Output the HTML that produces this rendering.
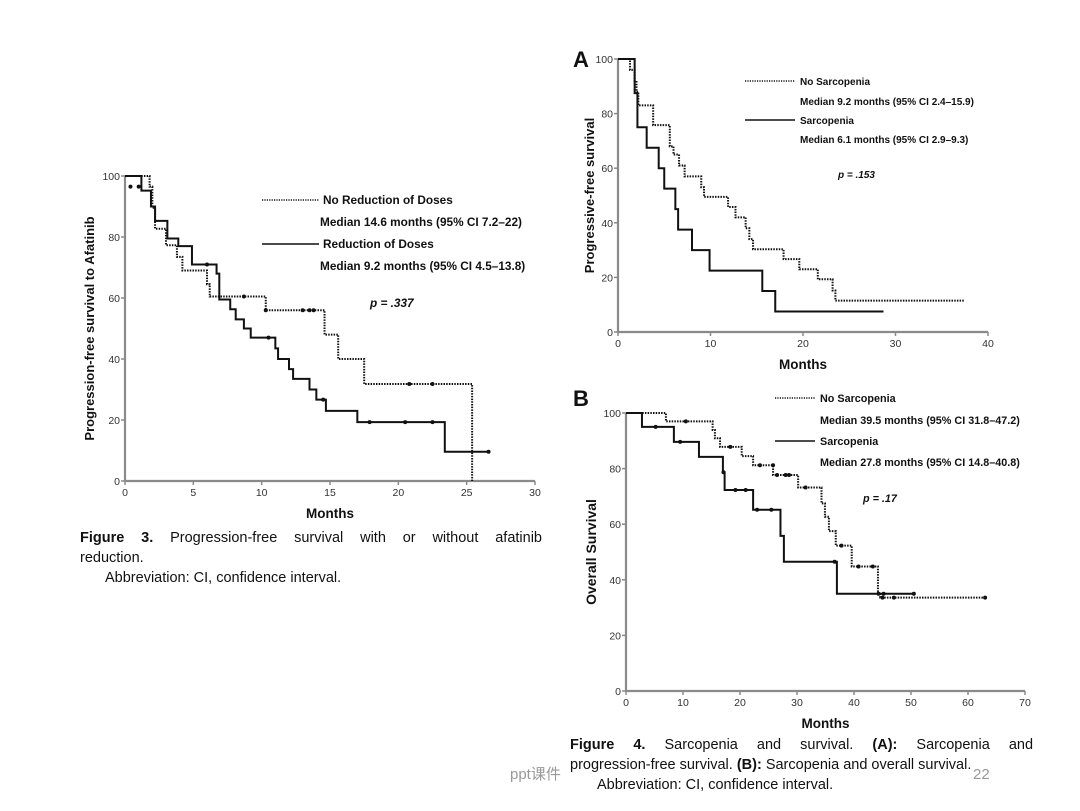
<!DOCTYPE html>
<html><head><meta charset="utf-8">
<style>
body{margin:0;background:#fff;width:1080px;height:811px;overflow:hidden;font-family:"Liberation Sans",sans-serif;}
svg{position:absolute;left:0;top:0}
.cap{position:absolute;font-family:"Liberation Sans","Noto Sans CJK SC",sans-serif;font-size:14.5px;color:#111;line-height:20px}
.j{display:block;text-align:justify;text-align-last:justify;white-space:nowrap}
.j2{display:block;text-align:justify;text-align-last:justify}
</style></head><body>
<svg id="svg" width="1080" height="811"></svg>
<div class="cap" style="left:80px;top:528px;width:462px">
<span class="j2"><b>Figure 3.</b> Progression-free survival with or without afatinib</span>reduction.<br><span style="padding-left:25px">Abbreviation: CI, confidence interval.</span></div>
<div class="cap" style="left:570px;top:735px;width:463px">
<span class="j2"><b>Figure 4.</b> Sarcopenia and survival. <b>(A):</b> Sarcopenia and</span>progression-free survival. <b>(B):</b> Sarcopenia and overall survival.<br><span style="padding-left:27px">Abbreviation: CI, confidence interval.</span></div>
<div class="cap" style="left:510px;top:765px;color:#999;font-size:15px">ppt课件</div>
<div class="cap" style="left:973px;top:765px;color:#999;font-size:15px">22</div>
<script>
// Figure 3 data
const f3Ticks = [0,5,10,15,20,25,30];
const yTicks = [0,20,40,60,80,100];
const f3NoRedT = [0,1.8,2.0,2.2,3.0,3.8,4.2,6.0,6.2,10.3,14.6,15.6,17.5,25.4];
const f3NoRedS = [100,96.5,89.6,82.7,77.3,73.5,69,64.5,60.5,56,48,40,31.8,0];
const f3NoRedCensT = [0.4,1.0,8.7,10.3,13,13.5,13.8,20.8,22.5];
const f3NoRedCensS = [96.5,96.5,60.5,56,56,56,56,31.8,31.8];
const f3RedT = [0,1.2,1.9,2.2,3.1,3.9,4.9,6.7,6.9,7.7,8.1,8.7,9.2,11.0,11.2,12.0,12.3,13.5,14.0,14.7,17.0,23.4];
const f3RedS = [100,95.2,90,85.3,79.5,77,71,68,59.5,56.3,53,50,47,43.5,40,36.7,33.5,30,26.7,23,19.3,9.6];
const f3RedEnd = 26.6;
const f3RedCensT = [6,10.5,14.5,17.9,20.5,22.5,26.6];
const f3RedCensS = [71,47,26.7,19.3,19.3,19.3,9.6];
// Figure 4A data
const aTicks = [0,10,20,30,40];
const aNoT = [0,1.3,1.8,2.0,2.2,3.8,5.6,6.0,6.6,7.2,9.0,9.3,11.9,12.7,13.8,14.2,14.6,17.9,19.6,21.6,23.2,23.5];
const aNoS = [100,96,92,88,83,75.8,68,65,61,57,53,49.5,45.8,42,38,34,30.3,26.7,23,19.3,15.2,11.5];
const aNoEnd = 37.5;
const aSarT = [0,1.8,2.1,3.1,4.4,5.0,6.2,6.5,8.0,9.9,15.6,17.0];
const aSarS = [100,87.5,75,67.5,60,52.5,45,37.5,30,22.5,15,7.5];
const aSarEnd = 28.7;
// Figure 4B data
const bTicks = [0,10,20,30,40,50,60,70];
const bNoT = [0,7,15.2,15.6,16.5,20.3,22.3,25.8,30.2,34.3,34.9,35.6,36.8,39.6,44.2,44.6];
const bNoS = [100,97,93.9,90.9,87.8,84.5,81.2,77.7,73.2,67.5,62.7,57.5,52.3,44.8,35,33.6];
const bNoEnd = 63;
const bNoCensT = [10.5,18.3,23.5,25.8,26.5,28,28.6,31.5,37.8,40.8,43.3,45,47,63];
const bNoCensS = [97,87.8,81.2,81.2,77.7,77.7,77.7,73.2,52.3,44.8,44.8,33.6,33.6,33.6];
const bSarT = [0,2.8,8.4,12.8,17.0,17.3,22.3,27.1,27.7,37.0];
const bSarS = [100,95,89.6,84.2,78.7,72.3,65.2,55.8,46.5,35];
const bSarEnd = 50.5;
const bSarCensT = [5.2,9.5,17.1,19.2,21,23,25.5,36.6,44.3,45.2,50.5];
const bSarCensS = [95,89.6,78.7,72.3,72.3,65.2,65.2,46.5,35,35,35];

const NS='http://www.w3.org/2000/svg';
const svg=document.getElementById('svg');
function mk(tag,attrs,parent){const e=document.createElementNS(NS,tag);for(const k in attrs)e.setAttribute(k,attrs[k]);(parent||svg).appendChild(e);return e;}
function txt(x,y,s,attrs,parent){const e=mk('text',Object.assign({x:x,y:y,fill:'#111'},attrs),parent);e.textContent=s;return e;}

function chart(name,o){
  const g=mk('g',{});
  
  
  const X=v=>o.x0+(v-o.xmin)/(o.xmax-o.xmin)*(o.x1-o.x0);
  const Y=v=>o.y0+(v/100)*(o.y1-o.y0);
  const ax=mk('path',{d:`M${o.x0},${o.y1}V${o.y0}H${o.x1}`,stroke:'#8a8a8a','stroke-width':2.2,fill:'none'},g);
  
  
  o.xt.forEach(t=>{mk('line',{x1:X(t),x2:X(t),y1:o.y0,y2:o.y0+4,stroke:'#8a8a8a','stroke-width':1.5},g);
    const l=txt(X(t),o.y0+15,t,{'font-size':10.5,'text-anchor':'middle',fill:'#333'},g);
    
    });
  yTicks.forEach(t=>{mk('line',{x1:o.x0-4,x2:o.x0,y1:Y(t),y2:Y(t),stroke:'#8a8a8a','stroke-width':1.5},g);
    const l=txt(o.x0-5,Y(t)+4,t,{'font-size':10.5,'text-anchor':'end',fill:'#333'},g);
    
    });
  const xt=txt((o.x0+o.x1)/2,o.y0+37,'Months',{'font-size':13.5,'font-weight':'bold','text-anchor':'middle'},g);
  
  
  const yc=(o.y0+o.y1)/2;
  const yt=txt(o.ytx,yc,o.ytitle,{'font-size':o.yfs,'font-weight':'bold','text-anchor':'middle',transform:`rotate(-90 ${o.ytx} ${yc})`},g);
  
  
  o.series.forEach(s=>{
    let d=`M${X(s.t[0])},${Y(s.s[0])}`;
    for(let i=1;i<s.t.length;i++){d+=`H${X(s.t[i])}V${Y(s.s[i])}`;}
    if(s.end!==undefined)d+=`H${X(s.end)}`;
    const p=mk('path',{d:d,fill:'none',stroke:'#111','stroke-width':2,'stroke-dasharray':s.dot?'1.5 1.2':'none'},g);
    
    
    if(s.ct)s.ct.forEach((c,i)=>{const m=mk('circle',{cx:X(c),cy:Y(s.cs[i]),r:2,fill:'#111'},g);
      
      });
  });
  o.legend.forEach(L=>{
    if(L.line){const l=mk('line',{x1:L.lx0,x2:L.lx1,y1:L.y-4,y2:L.y-4,stroke:'#111','stroke-width':1.6,'stroke-dasharray':L.dot?'1.2 1.2':'none'},g);
      
      }
    const t=txt(L.x,L.y,L.s,{'font-size':o.lfs,'font-weight':'bold','font-style':L.it?'italic':'normal'},g);
    
    
  });
}

chart('figure-3-chart',{x0:125,x1:535,y0:481,y1:176,xmin:0,xmax:30,xt:f3Ticks,ytx:94,ytitle:'Progression-free survival to Afatinib',yfs:13,lfs:11.8,
 series:[{name:'no-reduction-curve',t:f3NoRedT,s:f3NoRedS,dot:true,ct:f3NoRedCensT,cs:f3NoRedCensS},
         {name:'reduction-curve',t:f3RedT,s:f3RedS,end:f3RedEnd,ct:f3RedCensT,cs:f3RedCensS}],
 legend:[{line:1,dot:1,lx0:262,lx1:319,x:323,y:204,s:'No Reduction  of Doses'},
   {x:320,y:226,s:'Median 14.6 months (95% CI 7.2–22)'},
   {line:1,lx0:262,lx1:319,x:323,y:248,s:'Reduction of Doses'},
   {x:320,y:270,s:'Median 9.2 months (95% CI 4.5–13.8)'},
   {x:370,y:307,s:'p = .337',it:1}]});

chart('figure-4a-chart',{x0:618,x1:988,y0:332,y1:59,xmin:0,xmax:40,xt:aTicks,ytx:594,ytitle:'Progressive-free survival',yfs:13,lfs:10,
 series:[{name:'no-sarcopenia-pfs-curve',t:aNoT,s:aNoS,end:aNoEnd,dot:true},
         {name:'sarcopenia-pfs-curve',t:aSarT,s:aSarS,end:aSarEnd}],
 legend:[{line:1,dot:1,lx0:745,lx1:795,x:800,y:85,s:'No Sarcopenia'},
   {x:800,y:105,s:'Median 9.2 months (95% CI 2.4–15.9)'},
   {line:1,lx0:745,lx1:795,x:800,y:124,s:'Sarcopenia'},
   {x:800,y:143,s:'Median 6.1 months (95% CI 2.9–9.3)'},
   {x:838,y:178,s:'p = .153',it:1}]});

chart('figure-4b-chart',{x0:626,x1:1025,y0:691,y1:413,xmin:0,xmax:70,xt:bTicks,ytx:596,ytitle:'Overall Survival',yfs:14,lfs:10.8,
 series:[{name:'no-sarcopenia-os-curve',t:bNoT,s:bNoS,end:bNoEnd,dot:true,ct:bNoCensT,cs:bNoCensS},
         {name:'sarcopenia-os-curve',t:bSarT,s:bSarS,end:bSarEnd,ct:bSarCensT,cs:bSarCensS}],
 legend:[{line:1,dot:1,lx0:775,lx1:815,x:820,y:402,s:'No Sarcopenia'},
   {x:820,y:424,s:'Median 39.5 months (95% CI 31.8–47.2)'},
   {line:1,lx0:775,lx1:815,x:820,y:445,s:'Sarcopenia'},
   {x:820,y:466,s:'Median 27.8 months (95% CI 14.8–40.8)'},
   {x:863,y:502,s:'p = .17',it:1}]});

const A=txt(573,67,'A',{'font-size':22,'font-weight':'bold'});


const B=txt(573,406,'B',{'font-size':22,'font-weight':'bold'});


</script>
</body></html>
